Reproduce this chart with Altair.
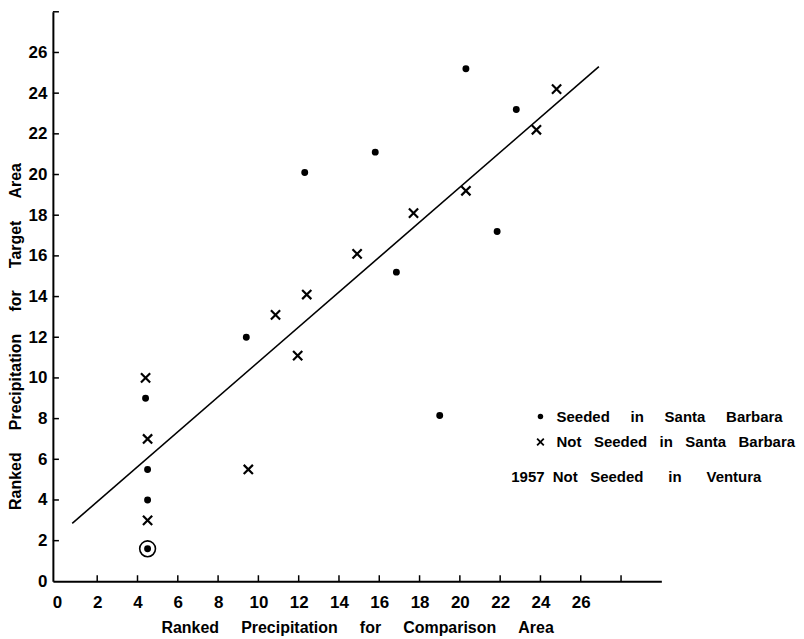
import altair as alt
import pandas as pd

# Seeded in Santa Barbara (dots)
seeded_x = [4.5, 4.5, 4.5, 4.4, 9.4, 12.3, 15.8, 16.85, 20.3, 21.85, 22.8, 19.0]
seeded_y = [1.6, 4.0, 5.5, 9.0, 12.0, 20.1, 21.1, 15.2, 25.2, 17.2, 23.2, 8.15]
# Not seeded in Santa Barbara (crosses)
not_x = [4.4, 4.5, 4.5, 9.5, 11.95, 10.85, 12.4, 14.9, 17.7, 20.3, 23.8, 24.8]
not_y = [10.0, 7.0, 3.0, 5.5, 11.1, 13.1, 14.1, 16.1, 18.1, 19.2, 22.2, 24.2]
# 1957 (circled)
circ_x = [4.5]
circ_y = [1.6]
# fitted line end points
line_x = [0.76, 26.9]
line_y = [2.85, 25.3]
# axis ticks
tick_vals = list(range(2, 30, 2))
label_vals = list(range(0, 30, 2))

SP = "\u00a0"
def spaced(words, n=4):
    return (SP * n).join(words)

x_title = spaced(["Ranked", "Precipitation", "for", "Comparison", "Area"], 5)
y_title = spaced(["Ranked", "Precipitation", "for", "Target", "Area"], 5)

FONT = "Liberation Sans"
xs = alt.Scale(domain=[-0.2, 30], nice=False, zero=False)
ys = alt.Scale(domain=[0, 28], nice=False, zero=False)

X = alt.X("x:Q", scale=xs, axis=alt.Axis(
    values=label_vals, labelExpr="datum.value == 28 ? '' : datum.label",
    ticks=False, grid=False, domainColor="black", domainWidth=2,
    labelFont=FONT, labelFontSize=17, labelFontWeight="bold", labelColor="black", labelPadding=13,
    title=x_title, titleFont=FONT, titleFontSize=16, titleFontWeight="bold",
    titleColor="black", titlePadding=9))
Y = alt.Y("y:Q", scale=ys, axis=alt.Axis(
    values=label_vals, labelExpr="datum.value == 28 ? '' : datum.label",
    ticks=False, grid=False, domainColor="black", domainWidth=2,
    labelFont=FONT, labelFontSize=17, labelFontWeight="bold", labelColor="black", labelPadding=6,
    title=y_title, titleFont=FONT, titleFontSize=16, titleFontWeight="bold",
    titleColor="black", titleX=-29, titleY=325))

seeded = pd.DataFrame({"x": seeded_x, "y": seeded_y})
notseed = pd.DataFrame({"x": not_x, "y": not_y})
circ = pd.DataFrame({"x": circ_x, "y": circ_y})
line = pd.DataFrame({"x": line_x, "y": line_y})

xt = pd.DataFrame({"x": tick_vals, "y": [0] * len(tick_vals), "y2": [0.3] * len(tick_vals)})
yt = pd.DataFrame({"y": tick_vals, "x": [-0.2] * len(tick_vals), "x2": [0.1] * len(tick_vals)})

cross_path = "M-1,-1L1,1M-1,1L1,-1"

l_line = alt.Chart(line).mark_line(color="black", strokeWidth=1.6).encode(x=X, y=Y)
l_dots = alt.Chart(seeded).mark_point(shape="circle", filled=True, color="black", size=48, opacity=1).encode(x=X, y=Y)
l_cross = alt.Chart(notseed).mark_point(shape=cross_path, filled=False, color="black", strokeWidth=2.2, size=85, opacity=1).encode(x=X, y=Y)
l_circ = alt.Chart(circ).mark_point(shape="circle", filled=False, color="black", strokeWidth=1.6, size=250, opacity=1).encode(x=X, y=Y)
l_xt = alt.Chart(xt).mark_rule(color="black", strokeWidth=1.5).encode(x=X, y=Y, y2="y2:Q")
l_yt = alt.Chart(yt).mark_rule(color="black", strokeWidth=1.5).encode(x=X, x2="x2:Q", y=Y)

# legend
leg_sym_dot = pd.DataFrame({"x": [24.0], "y": [8.1]})
leg_sym_x = pd.DataFrame({"x": [24.0], "y": [6.85]})
leg_text = pd.DataFrame({
    "x": [24.8, 24.8, 22.55],
    "y": [8.1, 6.85, 5.15],
    "t": [spaced(["Seeded", "in", "Santa", "Barbara"], 5),
          spaced(["Not", "Seeded", "in", "Santa", "Barbara"], 3),
          "1957" + SP * 2 + "Not" + SP * 3 + "Seeded" + SP * 6 + "in" + SP * 6 + "Ventura"],
})
l_ld = alt.Chart(leg_sym_dot).mark_point(shape="circle", filled=True, color="black", size=30, opacity=1).encode(x=X, y=Y)
l_lx = alt.Chart(leg_sym_x).mark_point(shape=cross_path, filled=False, color="black", strokeWidth=1.8, size=45, opacity=1).encode(x=X, y=Y)
l_lt = alt.Chart(leg_text).mark_text(align="left", baseline="middle", font=FONT, fontSize=15, fontWeight="bold", color="black").encode(x=X, y=Y, text="t:N")

chart = alt.layer(l_line, l_dots, l_cross, l_circ, l_xt, l_yt, l_ld, l_lx, l_lt).properties(
    width=610, height=571,
    autosize=alt.AutoSizeParams(type="none"),
    padding={"left": 45, "top": 3, "right": 135, "bottom": 56},
    background="white",
).configure_view(stroke=None)

chart.save("out.html", embed_options={"renderer": "svg", "actions": False})
